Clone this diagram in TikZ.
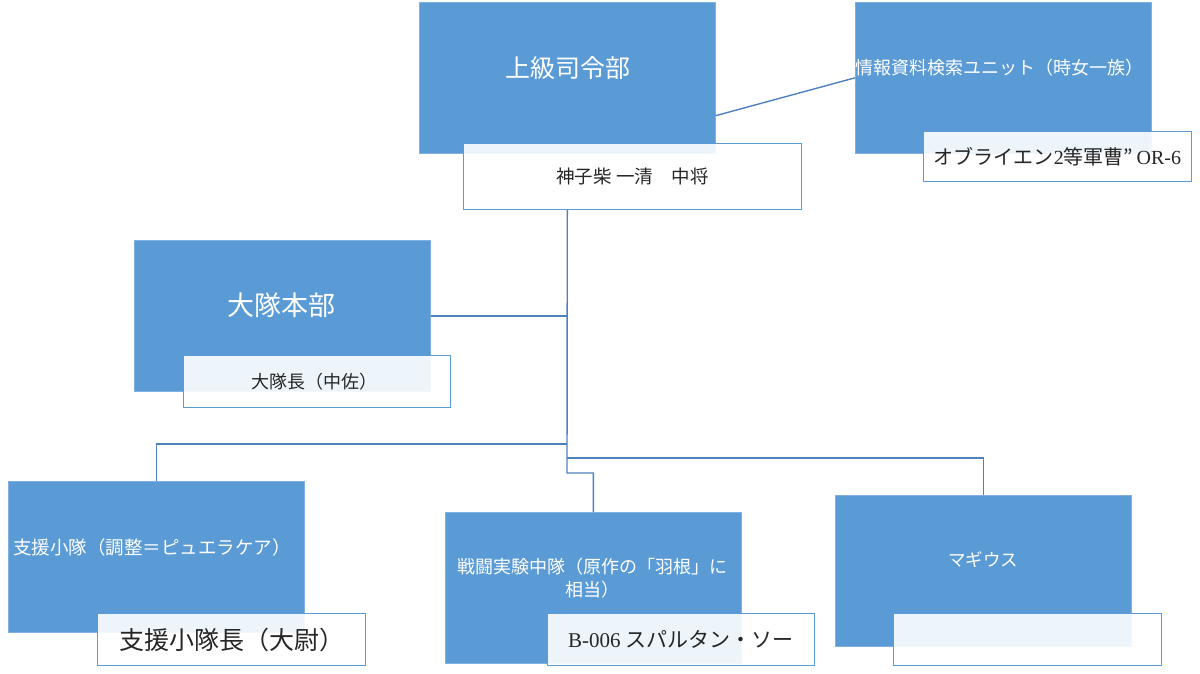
\documentclass[tikz,border=0pt]{standalone}
\usepackage{fontspec}
\setmainfont{Liberation Serif}
\newfontfamily\jp{Noto Sans CJK JP}
\usetikzlibrary{calc}
\definecolor{boxblue}{HTML}{5B9BD5}
\definecolor{boxedge}{HTML}{80B0E0}
\definecolor{linkblue}{HTML}{4F81BD}
\definecolor{labfill}{HTML}{FFFFFF}
\tikzset{
  unit/.style={rectangle, fill=boxblue, draw=boxedge, line width=0.6pt, inner sep=0pt,
    minimum width=296, minimum height=151, anchor=north west},
  lab/.style={rectangle, fill=labfill, fill opacity=0.9, text opacity=1, draw=boxblue, line width=1pt,
    inner sep=0pt, anchor=north west},
  wtxt/.style={text=white, font=\jp, inner sep=0pt},
  btxt/.style={text=black!85, inner sep=0pt},
  link/.style={draw=linkblue, line width=1.4pt},
}
\begin{document}
\begin{tikzpicture}[x=1pt,y=-1pt]
\useasboundingbox (0,0) rectangle (1200,673);
% blue boxes
\node[unit] (hq) at (419,2) {};
\node[unit] (info) at (855,2) {};
\node[unit] (bh) at (134,240) {};
\node[unit] (sp) at (8,481) {};
\node[unit] (cb) at (445,512) {};
\node[unit] (mg) at (835,495) {};
% titles
\node[wtxt, font=\jp\fontsize{25}{28}\selectfont] (hqt) at (568,68) {上級司令部};
\node[wtxt, font=\jp\fontsize{18}{20}\selectfont] (infot) at (999,68) {情報資料検索ユニット（時女一族）};
\node[wtxt, font=\jp\fontsize{27}{30}\selectfont] (bht) at (281,305) {大隊本部};
\node[wtxt, font=\jp\fontsize{18.5}{20}\selectfont] (spt) at (152,547) {支援小隊（調整＝ピュエラケア）};
\node[wtxt, font=\jp\fontsize{18}{23}\selectfont, align=center] (cbt) at (592,578) {戦闘実験中隊（原作の「羽根」に\\相当）};
\node[wtxt, font=\jp\fontsize{17.5}{20}\selectfont] (mgt) at (983,560) {マギウス};
% connectors
\coordinate (j1) at (567,444);
\coordinate (j2) at (567,458);
\coordinate (j3) at (567,473);
% label boxes
\node[lab, minimum width=338, minimum height=66] (hql) at (463,143) {};
\node[lab, minimum width=268, minimum height=50] (infol) at (923,131) {};
\node[lab, minimum width=267, minimum height=52] (bhl) at (183,355) {};
\node[lab, minimum width=268, minimum height=52] (spl) at (97,613) {};
\node[lab, minimum width=267, minimum height=52] (cbl) at (547,613) {};
\node[lab, minimum width=268, minimum height=52] (mgl) at (893,613) {};
% label texts
\node[btxt, font=\jp\fontsize{18.5}{20}\selectfont] at (hql.center) {神子柴 一清　中将};
\node[btxt, font=\fontsize{20}{22}\selectfont] at (infol.center) {{\jp オブライエン}2{\jp 等軍曹”}\,OR-6};
\node[btxt, font=\jp\fontsize{18}{20}\selectfont] at ($(bhl.center)+(-3,0)$) {大隊長（中佐）};
\node[btxt, font=\jp\fontsize{25}{28}\selectfont] at (spl.center) {支援小隊長（大尉）};
\node[btxt, font=\fontsize{21}{24}\selectfont] at (cbl.center) {B-006 {\jp スパルタン・ソー}};
% links
\draw[link] (hq.south |- hql.south) -- (j3) -- (j3 -| cb.north) -- (cb.north);
\draw[link] (bh.east) -- (bh.east -| hq.south);
\draw[link] (j1) -- (j1 -| sp.north) -- (sp.north);
\draw[link] (j2) -- (j2 -| mg.north) -- (mg.north);
\draw[link] ($(hq.south east)!0.25!(hq.north east)$) -- (info.west);
\end{tikzpicture}
\end{document}
